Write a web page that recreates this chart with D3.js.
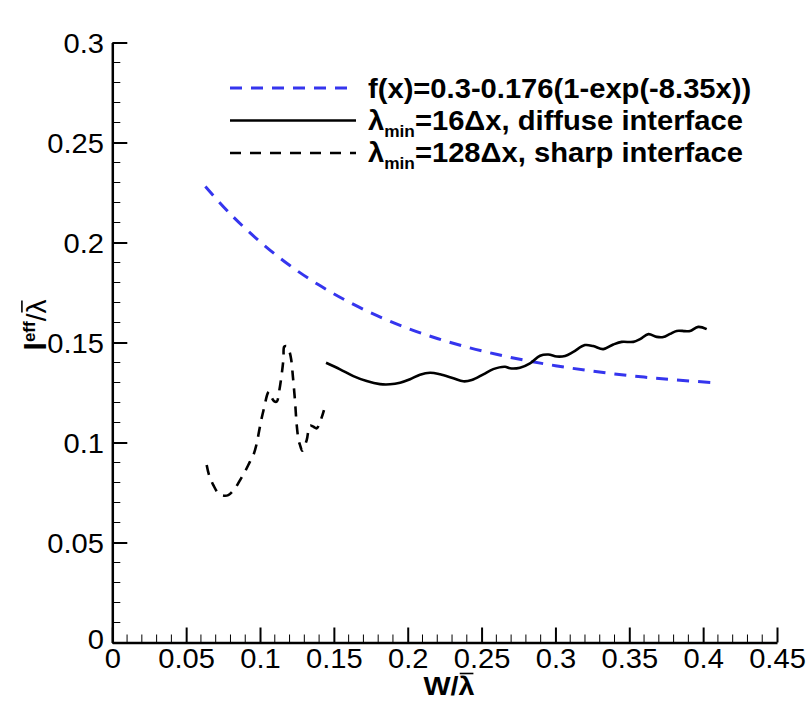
<!DOCTYPE html>
<html>
<head>
<meta charset="utf-8">
<script src="https://cdn.jsdelivr.net/npm/d3@7"></script>
<style>
  body { margin: 0; background: #fff; }
  text { font-family: "Liberation Sans", Arial, Helvetica, sans-serif; }
</style>
</head>
<body>
<div id="chart"></div>
<script>
// ---- data ----
const fitX = [0.063, 0.08, 0.1, 0.12, 0.14, 0.16, 0.18, 0.2, 0.22, 0.24, 0.26, 0.28, 0.3, 0.32, 0.34, 0.36, 0.38, 0.405];
const fitY = [0.228, 0.2142, 0.2004, 0.1886, 0.1787, 0.1703, 0.1632, 0.1571, 0.152, 0.1477, 0.1441, 0.141, 0.1384, 0.1362, 0.1343, 0.1327, 0.1314, 0.13];

const diffuseX = [0.1447, 0.1542, 0.1632, 0.1722, 0.1812, 0.188, 0.1948, 0.2016, 0.2083, 0.2151, 0.2219, 0.2309, 0.2376, 0.2433, 0.2512, 0.2579, 0.2659, 0.2692, 0.276, 0.2828, 0.2896, 0.2952, 0.3009, 0.3065, 0.3121, 0.32, 0.3256, 0.3324, 0.3392, 0.3449, 0.3527, 0.3573, 0.3629, 0.3686, 0.373, 0.3776, 0.3821, 0.3877, 0.3911, 0.3967, 0.4024];
const diffuseY = [0.1399, 0.1366, 0.1332, 0.1307, 0.1292, 0.1291, 0.1299, 0.1316, 0.1339, 0.1349, 0.1341, 0.1321, 0.1306, 0.1312, 0.1341, 0.1367, 0.1379, 0.1371, 0.1374, 0.1396, 0.1434, 0.144, 0.143, 0.1433, 0.1453, 0.1487, 0.1482, 0.1467, 0.149, 0.1503, 0.1503, 0.1517, 0.1542, 0.1528, 0.1527, 0.1543, 0.1558, 0.1557, 0.1557, 0.1578, 0.1567];

const sharpX = [0.0639, 0.0655, 0.0684, 0.0718, 0.0749, 0.0785, 0.0826, 0.0865, 0.0898, 0.0932, 0.0955, 0.0978, 0.0993, 0.1011, 0.1027, 0.1052, 0.1061, 0.1074, 0.1095, 0.1113, 0.1129, 0.1147, 0.1159, 0.1164, 0.1181, 0.1196, 0.121, 0.1223, 0.1237, 0.1248, 0.1261, 0.1271, 0.1286, 0.1316, 0.1338, 0.1361, 0.1384, 0.1413, 0.1433];
const sharpY = [0.0887, 0.0837, 0.0787, 0.0746, 0.0735, 0.0737, 0.0766, 0.0812, 0.0854, 0.0904, 0.0937, 0.0996, 0.1054, 0.1121, 0.1171, 0.1246, 0.1254, 0.1232, 0.1207, 0.1204, 0.1254, 0.1342, 0.1422, 0.1479, 0.1482, 0.1462, 0.142, 0.1327, 0.1207, 0.1092, 0.1012, 0.0987, 0.0959, 0.1012, 0.1084, 0.1079, 0.1071, 0.1116, 0.1162];

const xTicks = [0, 0.05, 0.1, 0.15, 0.2, 0.25, 0.3, 0.35, 0.4, 0.45];
const yTicks = [0, 0.05, 0.1, 0.15, 0.2, 0.25, 0.3];

const W = 806, H = 717;
const margin = {top: 42.5, right: 29, bottom: 74.5, left: 112.3};
const width = W - margin.left - margin.right;
const height = H - margin.top - margin.bottom;

const svg = d3.select("#chart").append("svg")
  .attr("width", W).attr("height", H);

const g = svg.append("g").attr("transform", `translate(${margin.left},${margin.top})`);

const x = d3.scaleLinear().domain([0, 0.45]).range([0, width]);
const y = d3.scaleLinear().domain([0, 0.3]).range([height, 0]);

const fmt = d => d === 0 ? "0" : String(+d.toFixed(2));

// minor ticks (inward)
const xMinor = d3.range(0, 0.4501, 0.01).filter(v => Math.abs(v / 0.05 - Math.round(v / 0.05)) > 1e-6);
const yMinor = d3.range(0, 0.3001, 0.01).filter(v => Math.abs(v / 0.05 - Math.round(v / 0.05)) > 1e-6);

g.append("g").selectAll("line").data(xMinor).join("line")
  .attr("x1", d => x(d)).attr("x2", d => x(d))
  .attr("y1", height).attr("y2", height - 8)
  .attr("stroke", "#000").attr("stroke-width", 1);
g.append("g").selectAll("line").data(yMinor).join("line")
  .attr("y1", d => y(d)).attr("y2", d => y(d))
  .attr("x1", 0).attr("x2", 8)
  .attr("stroke", "#000").attr("stroke-width", 1);

// major ticks + labels
const xAxis = g.append("g").attr("transform", `translate(0,${height})`)
  .call(d3.axisBottom(x).tickValues(xTicks).tickFormat(fmt).tickSizeInner(-15).tickSizeOuter(0).tickPadding(6));
const yAxis = g.append("g")
  .call(d3.axisLeft(y).tickValues(yTicks).tickFormat(fmt).tickSizeInner(-15).tickSizeOuter(0).tickPadding(8));

[xAxis, yAxis].forEach(a => {
  a.select(".domain").attr("stroke-width", 2.5);
  a.selectAll(".tick line").attr("stroke-width", 2);
  a.selectAll(".tick text").attr("font-size", 28).attr("font-family", "Liberation Sans, Arial, sans-serif")
    .attr("fill", "#000").attr("transform", "scale(1.04,1)");
});
xAxis.selectAll(".tick text").attr("dy", "0.71em");
yAxis.selectAll(".tick text").attr("dy", "0.36em");
yAxis.selectAll(".tick").filter(d => d === 0).select("text").attr("dy", "0.2em");

// curves
const line = d3.line().x(d => x(d[0])).y(d => y(d[1])).curve(d3.curveCatmullRom);

g.append("path")
  .datum(d3.zip(fitX, fitY))
  .attr("d", line)
  .attr("fill", "none").attr("stroke", "#3535ee").attr("stroke-width", 3)
  .attr("stroke-dasharray", "12,9");

g.append("path")
  .datum(d3.zip(diffuseX, diffuseY))
  .attr("d", line)
  .attr("fill", "none").attr("stroke", "#000").attr("stroke-width", 2.6);

g.append("path")
  .datum(d3.zip(sharpX, sharpY))
  .attr("d", line)
  .attr("fill", "none").attr("stroke", "#000").attr("stroke-width", 2.6)
  .attr("stroke-dasharray", "10,8");

// legend
const legend = svg.append("g").attr("transform", "translate(230,88)");
const items = [
  {stroke: "#3535ee", dash: "12,9", w: 3},
  {stroke: "#000", dash: null, w: 2.6},
  {stroke: "#000", dash: "11,9", w: 2.6}
];
items.forEach((it, i) => {
  legend.append("line").attr("x1", 0).attr("x2", 126)
    .attr("y1", i * 32.5).attr("y2", i * 32.5)
    .attr("stroke", it.stroke).attr("stroke-width", it.w)
    .attr("stroke-dasharray", it.dash);
});
const legText = legend.append("g").attr("transform", "translate(138,0) scale(1.08,1)");
legText.append("text").attr("x", 0).attr("y", 9.5)
  .attr("font-size", 27).attr("font-weight", "bold")
  .text("f(x)=0.3-0.176(1-exp(-8.35x))");
[["16", "diffuse interface"], ["128", "sharp interface"]].forEach((r, i) => {
  const t = legText.append("text").attr("x", 0).attr("y", 9.5 + (i + 1) * 32.5)
    .attr("font-size", 27).attr("font-weight", "bold");
  t.append("tspan").text("λ");
  t.append("tspan").attr("font-size", 16).attr("dy", 7).text("min");
  t.append("tspan").attr("dy", -7).text(`=${r[0]}Δx, ${r[1]}`);
});

// overbar above a character of a text element
function overbar(textSel, idx, fs) {
  const node = textSel.node();
  const a = node.getStartPositionOfChar(idx), b = node.getEndPositionOfChar(idx);
  d3.select(node.parentNode).append("line")
    .attr("x1", a.x + 1).attr("x2", b.x - 1)
    .attr("y1", a.y - fs * 0.86).attr("y2", a.y - fs * 0.86)
    .attr("stroke", "#000").attr("stroke-width", 1.6);
}

// axis titles
const xtG = svg.append("g").attr("transform", "translate(449,695) scale(1.15,1)");
const xt = xtG.append("text").attr("text-anchor", "middle")
  .attr("font-size", 25).attr("font-weight", "bold").text("W/λ");
overbar(xt, 2, 25);

const ytG = svg.append("g").attr("transform", "translate(46,325) rotate(-90)");
const yt = ytG.append("text").attr("text-anchor", "middle")
  .attr("font-size", 30).attr("font-weight", "bold");
yt.append("tspan").text("l");
yt.append("tspan").attr("font-size", 17).attr("dy", -11).text("eff");
yt.append("tspan").attr("dy", 11).attr("font-weight", "normal").attr("font-size", 28).text("/λ");
overbar(yt, 5, 28);
</script>
</body>
</html>
